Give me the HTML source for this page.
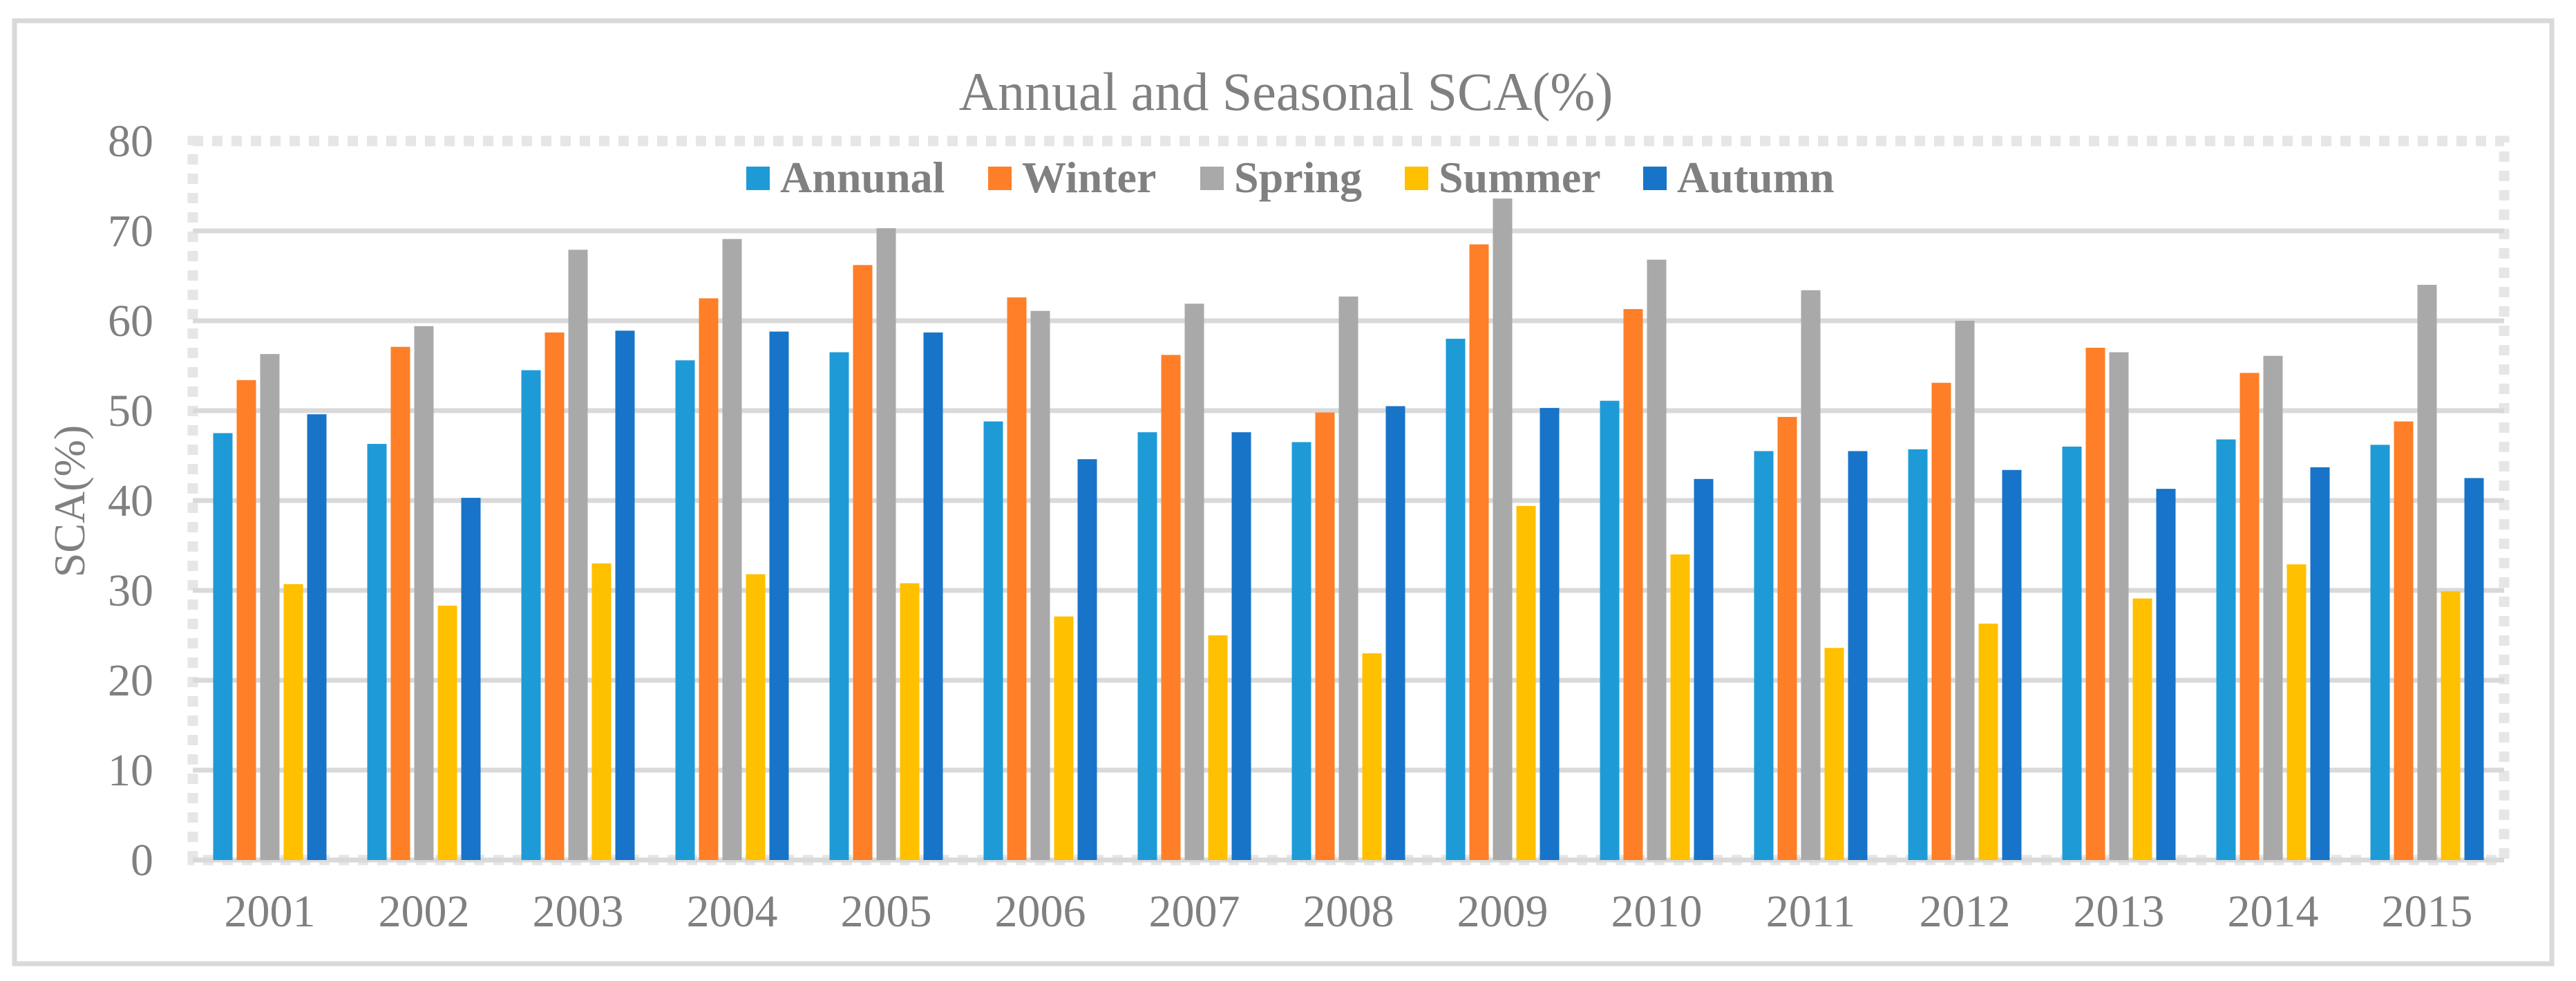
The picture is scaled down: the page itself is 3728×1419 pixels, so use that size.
<!DOCTYPE html>
<html><head><meta charset="utf-8"><style>
html,body{margin:0;padding:0;background:#fff;}
svg{display:block;font-family:"Liberation Serif",serif;}
</style></head><body>
<svg id="chart" width="3728" height="1419" viewBox="0 0 3728 1419" xmlns="http://www.w3.org/2000/svg">
<rect x="21" y="30" width="3672" height="1364" fill="#fff" stroke="#d9d9d9" stroke-width="7"/>
<text x="1861" y="159" font-size="78" fill="#808080" text-anchor="middle">Annual and Seasonal SCA(%)</text>
<text transform="translate(122,725) rotate(-90)" font-size="64" fill="#808080" text-anchor="middle">SCA(%)</text>
<g id="grid"></g>
<g id="bars"></g>
<g id="xlabels"></g>
<g id="ylabels"></g>
<g id="legend"></g>
</svg>
<script>
const years=["2001","2002","2003","2004","2005","2006","2007","2008","2009","2010","2011","2012","2013","2014","2015"];
const annual=[47.5,46.3,54.5,55.6,56.5,48.8,47.6,46.5,58.0,51.1,45.5,45.7,46.0,46.8,46.2];
const winter=[53.4,57.1,58.7,62.5,66.2,62.6,56.2,49.8,68.5,61.3,49.3,53.1,57.0,54.2,48.8];
const spring=[56.3,59.4,67.9,69.1,70.3,61.1,61.9,62.7,73.6,66.8,63.4,60.0,56.5,56.1,64.0];
const summer=[30.7,28.3,33.0,31.8,30.8,27.1,25.0,23.0,39.4,34.0,23.6,26.3,29.1,32.9,29.9];
const autumn=[49.6,40.3,58.9,58.8,58.7,44.6,47.6,50.5,50.3,42.4,45.5,43.4,41.3,43.7,42.5];
const yTicks=[0,10,20,30,40,50,60,70,80];
const seriesNames=["Annunal","Winter","Spring","Summer","Autumn"];
const seriesColors=["#1e9bd7","#fe7f27","#a9a9a9","#ffc000","#1874c8"];
const seriesData=[annual,winter,spring,summer,autumn];

const NS="http://www.w3.org/2000/svg";
const L=279,R=3624,T=204,B=1244,yMax=80;
const catW=(R-L)/years.length;
const barW=28,barStep=34;
function y(v){return B-(v/yMax)*(B-T);}
function xCat(i){return L+catW*(i+0.5);}
function mk(tag,attrs,parent){const e=document.createElementNS(NS,tag);for(const k in attrs)e.setAttribute(k,attrs[k]);parent.appendChild(e);return e;}

const grid=document.getElementById('grid');
const pb=mk('rect',{x:L,y:T,width:R-L,height:B-T,fill:'none',stroke:'#e6e6e6','stroke-width':15,'stroke-dasharray':'15 13'},grid);


yTicks.forEach(t=>{
  if(t===yMax)return;
  const g=mk('line',{x1:L,x2:R,y1:y(t),y2:y(t),stroke:'#d9d9d9','stroke-width':7},grid);
  
  
});
const yl=document.getElementById('ylabels');
yTicks.forEach(t=>{
  const tx=mk('text',{x:222,y:y(t)+22,'font-size':66,fill:'#808080','text-anchor':'end'},yl);
  tx.textContent=t;
  
  
});
const bars=document.getElementById('bars');
seriesData.forEach((arr,s)=>{
  arr.forEach((v,i)=>{
    const x=xCat(i)-(barStep*2)-barW/2+s*barStep;
    const r=mk('rect',{x:x,y:y(v),width:barW,height:B-y(v),fill:seriesColors[s]},bars);
    
    
  });
});
const xl=document.getElementById('xlabels');
years.forEach((yr,i)=>{
  const tx=mk('text',{x:xCat(i),y:1340,'font-size':66,fill:'#808080','text-anchor':'middle'},xl);
  tx.textContent=yr;
  
  
});
const lg=document.getElementById('legend');
const legX=[1080,1430,1737,2033,2378];
seriesNames.forEach((n,s)=>{
  const g=mk('g',{},lg);
  
  
  mk('rect',{x:legX[s],y:241,width:34,height:34,fill:seriesColors[s]},g);
  const tx=mk('text',{x:legX[s]+49,y:278,'font-size':64,'font-weight':'bold',fill:'#808080'},g);
  tx.textContent=n;
});
</script>
</body></html>
